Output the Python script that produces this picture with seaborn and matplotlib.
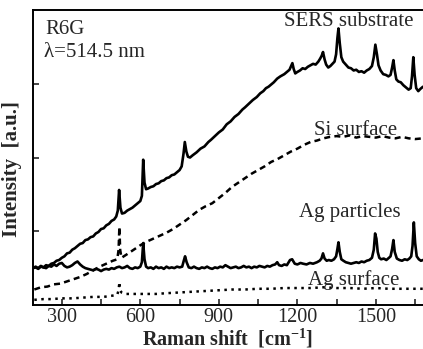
import matplotlib
matplotlib.use("Agg")
import matplotlib.pyplot as plt
import seaborn as sns
import pandas as pd

# ---------------- data ----------------
sers_x = [190, 200, 210, 220, 230, 240, 250, 260, 270, 280, 290, 300, 310, 320, 330, 340, 350, 360,
          370, 380, 390, 400, 410, 420, 430, 440, 450, 460, 470, 480, 490, 500, 508, 514, 519, 524,
          530, 540, 550, 560, 570, 580, 590, 600, 606, 611, 616, 622, 630, 640, 650, 660, 670, 680,
          690, 700, 710, 720, 730, 740, 750, 758, 765, 770, 776, 782, 790, 800, 815, 830, 845, 860,
          870, 885, 900, 915, 930, 945, 960, 975, 990, 1000, 1015, 1030, 1045, 1058, 1070, 1080,
          1090, 1100, 1110, 1123, 1135, 1150, 1160, 1170, 1176, 1181, 1186, 1192, 1200, 1210, 1220,
          1230, 1240, 1250, 1260, 1270, 1280, 1287, 1293, 1298, 1304, 1310, 1318, 1326, 1334, 1342,
          1348, 1353, 1357, 1362, 1368, 1375, 1385, 1395, 1405, 1415, 1425, 1435, 1445, 1455, 1465,
          1475, 1485, 1492, 1498, 1504, 1510, 1518, 1528, 1538, 1548, 1556, 1562, 1567, 1572, 1578,
          1586, 1595, 1605, 1615, 1625, 1633, 1638, 1643, 1648, 1654, 1662, 1670, 1680]
sers_y = [0.50, 0.51, 0.49, 0.52, 0.51, 0.54, 0.53, 0.56, 0.57, 0.60, 0.61, 0.64, 0.66, 0.70, 0.71,
          0.75, 0.77, 0.80, 0.83, 0.84, 0.88, 0.89, 0.92, 0.93, 0.97, 0.99, 1.03, 1.04, 1.08, 1.10,
          1.14, 1.16, 1.20, 1.28, 1.56, 1.32, 1.24, 1.25, 1.28, 1.30, 1.32, 1.35, 1.38, 1.41, 1.48,
          1.97, 1.66, 1.57, 1.58, 1.60, 1.61, 1.64, 1.65, 1.68, 1.69, 1.72, 1.73, 1.76, 1.77, 1.80,
          1.83, 1.88, 2.05, 2.21, 2.08, 2.01, 2.00, 2.03, 2.07, 2.12, 2.15, 2.21, 2.24, 2.29, 2.34,
          2.38, 2.45, 2.49, 2.55, 2.59, 2.65, 2.68, 2.73, 2.78, 2.82, 2.87, 2.90, 2.94, 2.96, 2.99,
          3.02, 3.07, 3.10, 3.13, 3.16, 3.19, 3.24, 3.28, 3.20, 3.14, 3.16, 3.18, 3.21, 3.20, 3.23,
          3.25, 3.27, 3.26, 3.30, 3.34, 3.38, 3.43, 3.33, 3.26, 3.22, 3.24, 3.27, 3.30, 3.40, 3.62,
          3.75, 3.55, 3.36, 3.30, 3.26, 3.22, 3.21, 3.18, 3.19, 3.16, 3.17, 3.15, 3.18, 3.20, 3.24,
          3.36, 3.53, 3.40, 3.25, 3.18, 3.13, 3.12, 3.10, 3.12, 3.22, 3.32, 3.18, 3.06, 3.03, 3.02,
          2.98, 2.95, 2.92, 2.94, 3.10, 3.36, 3.12, 2.94, 2.90, 2.93, 2.96]

agp_x = [190, 200, 210, 220, 230, 240, 250, 260, 270, 280, 290, 300, 310, 320, 330, 340, 350, 360,
         370, 380, 390, 400, 410, 420, 430, 440, 450, 460, 470, 480, 490, 500, 510, 520, 530, 540,
         550, 560, 570, 580, 590, 600, 606, 611, 616, 622, 630, 640, 650, 660, 670, 680, 690, 700,
         710, 720, 730, 740, 750, 760, 766, 771, 777, 785, 795, 805, 815, 825, 835, 845, 855, 865,
         875, 885, 895, 905, 915, 925, 935, 945, 955, 965, 975, 985, 995, 1005, 1015, 1025, 1035,
         1045, 1055, 1065, 1075, 1085, 1095, 1105, 1115, 1123, 1130, 1140, 1150, 1160, 1172, 1180,
         1190, 1200, 1212, 1222, 1235, 1248, 1260, 1275, 1285, 1292, 1298, 1304, 1312, 1320, 1330,
         1340, 1348, 1353, 1357, 1362, 1368, 1376, 1385, 1395, 1405, 1415, 1425, 1435, 1445, 1455,
         1465, 1475, 1485, 1492, 1497, 1502, 1507, 1513, 1520, 1530, 1540, 1550, 1556, 1562, 1567,
         1572, 1580, 1590, 1600, 1610, 1620, 1628, 1635, 1640, 1645, 1650, 1656, 1664, 1672, 1680]
agp_y = [0.50, 0.52, 0.50, 0.53, 0.51, 0.50, 0.53, 0.52, 0.55, 0.53, 0.56, 0.57, 0.53, 0.51, 0.52,
         0.54, 0.57, 0.59, 0.55, 0.52, 0.50, 0.49, 0.48, 0.47, 0.49, 0.48, 0.46, 0.48, 0.49, 0.48,
         0.50, 0.49, 0.51, 0.52, 0.50, 0.51, 0.53, 0.50, 0.49, 0.51, 0.50, 0.52, 0.58, 0.84, 0.62,
         0.52, 0.50, 0.51, 0.49, 0.52, 0.50, 0.51, 0.49, 0.52, 0.50, 0.51, 0.50, 0.52, 0.51, 0.52,
         0.60, 0.66, 0.58, 0.51, 0.50, 0.52, 0.50, 0.49, 0.51, 0.50, 0.52, 0.50, 0.49, 0.51, 0.50,
         0.52, 0.51, 0.54, 0.52, 0.50, 0.51, 0.52, 0.50, 0.51, 0.53, 0.51, 0.52, 0.50, 0.52, 0.51,
         0.53, 0.52, 0.51, 0.53, 0.52, 0.54, 0.55, 0.58, 0.54, 0.53, 0.55, 0.54, 0.61, 0.62, 0.56,
         0.55, 0.57, 0.56, 0.55, 0.57, 0.56, 0.58, 0.60, 0.63, 0.70, 0.63, 0.60, 0.61, 0.60, 0.62,
         0.66, 0.76, 0.85, 0.72, 0.62, 0.60, 0.58, 0.57, 0.56, 0.57, 0.58, 0.57, 0.59, 0.58, 0.60,
         0.61, 0.64, 0.75, 0.97, 0.90, 0.72, 0.64, 0.62, 0.63, 0.61, 0.64, 0.66, 0.76, 0.88, 0.72,
         0.63, 0.61, 0.60, 0.62, 0.61, 0.63, 0.66, 0.80, 1.12, 0.84, 0.66, 0.62, 0.60, 0.61]

si_x = [195, 220, 245, 270, 295, 320, 345, 370, 395, 420, 445, 470, 495, 512, 517, 520, 523, 528,
        550, 575, 600, 625, 650, 675, 700, 725, 750, 775, 800, 825, 850, 875, 900, 925, 950, 975,
        1000, 1025, 1050, 1075, 1100, 1125, 1150, 1175, 1200, 1225, 1250, 1275, 1300, 1325, 1350,
        1375, 1400, 1425, 1450, 1475, 1500, 1525, 1550, 1575, 1600, 1625, 1650, 1680]
si_y = [0.21, 0.24, 0.25, 0.28, 0.29, 0.32, 0.35, 0.38, 0.42, 0.47, 0.52, 0.56, 0.60, 0.62, 0.75,
        1.06, 0.75, 0.64, 0.69, 0.75, 0.81, 0.86, 0.90, 0.94, 0.98, 1.03, 1.09, 1.15, 1.22, 1.29,
        1.34, 1.38, 1.45, 1.52, 1.60, 1.66, 1.72, 1.78, 1.83, 1.88, 1.94, 1.98, 2.03, 2.08, 2.12,
        2.17, 2.21, 2.23, 2.26, 2.28, 2.29, 2.28, 2.30, 2.27, 2.29, 2.28, 2.27, 2.29, 2.27, 2.26,
        2.28, 2.26, 2.25, 2.26]

ags_x = [195, 230, 260, 300, 340, 380, 420, 460, 500, 512, 517, 520, 523, 528, 545, 580, 620, 660,
         700, 750, 800, 850, 900, 950, 1000, 1050, 1100, 1150, 1200, 1250, 1300, 1350, 1400, 1450,
         1500, 1550, 1600, 1640, 1680]
ags_y = [0.07, 0.08, 0.08, 0.09, 0.09, 0.10, 0.11, 0.11, 0.13, 0.14, 0.20, 0.31, 0.20, 0.17, 0.15,
         0.15, 0.15, 0.15, 0.16, 0.17, 0.18, 0.19, 0.20, 0.21, 0.21, 0.22, 0.22, 0.23, 0.23, 0.23,
         0.24, 0.23, 0.23, 0.22, 0.23, 0.22, 0.22, 0.22, 0.22]

x_ticks = [300, 600, 900, 1200, 1500]
x_minor = [450, 750, 1050, 1350, 1650]
y_ticks = [1, 2, 3]

labels = {
    "R6G": (236, 3.73),
    "λ=514.5 nm": (232, 3.42),
}
series_labels = [("SERS substrate", 1398, 3.84),
                 ("Si surface", 1421, 2.37),
                 ("Ag particles", 1402, 1.26),
                 ("Ag surface", 1417, 0.34)]

# ---------------- figure ----------------
sns.set_style("ticks")
plt.rcParams["font.family"] = ["Liberation Serif", "DejaVu Serif"]
plt.rcParams["mathtext.fontset"] = "custom"
plt.rcParams["mathtext.rm"] = "Liberation Serif"
plt.rcParams["mathtext.bf"] = "Liberation Serif:bold"

W, H = 423, 349
fig = plt.figure(figsize=(W / 100, H / 100), dpi=100)
ax = fig.add_axes([33 / W, (H - 305) / H, (W - 33) / W, (305 - 10) / H])

df_sers = pd.DataFrame({"x": sers_x, "y": sers_y})
df_agp = pd.DataFrame({"x": agp_x, "y": agp_y})
df_si = pd.DataFrame({"x": si_x, "y": si_y})
df_ags = pd.DataFrame({"x": ags_x, "y": ags_y})

sns.lineplot(data=df_sers, x="x", y="y", ax=ax, color="black", linewidth=1.9,
             sort=False, estimator=None)
sns.lineplot(data=df_agp, x="x", y="y", ax=ax, color="black", linewidth=1.9,
             sort=False, estimator=None)
sns.lineplot(data=df_si, x="x", y="y", ax=ax, color="black", linewidth=1.8,
             sort=False, estimator=None, linestyle=(0, (2.4, 1.7)))
sns.lineplot(data=df_ags, x="x", y="y", ax=ax, color="black", linewidth=1.8,
             sort=False, estimator=None, linestyle=(0, (1.0, 1.8)))

ax.set_xlim(190, 1680)
ax.set_ylim(0, 4)
ax.set_xticks(x_ticks)
ax.set_xticks(x_minor, minor=True)
ax.set_yticks(y_ticks)
ax.set_yticklabels([])
ax.tick_params(axis="both", which="both", direction="in", length=4.5, width=1.2,
               top=False, right=False)
ax.tick_params(axis="x", which="major", labelsize=14.5, pad=2)
for s in ["left", "bottom", "top"]:
    ax.spines[s].set_linewidth(1.4)
    ax.spines[s].set_color("black")
ax.spines["right"].set_visible(False)

ax.set_xlabel(r"Raman shift  [cm$^{\mathbf{-1}}$]", fontsize=14.5, fontweight="bold", va="center")
ax.set_ylabel("Intensity  [a.u.]", fontsize=15, fontweight="bold", va="center")
ax.xaxis.set_label_coords(0.5, -0.112)
ax.yaxis.set_label_coords(-0.055, 0.46)

for txt, (x, y) in labels.items():
    ax.text(x, y, txt, fontsize=15, ha="left", va="center")
for txt, x, y in series_labels:
    ax.text(x, y, txt, fontsize=15, ha="center", va="center")

fig.savefig("out.png", dpi=100)
